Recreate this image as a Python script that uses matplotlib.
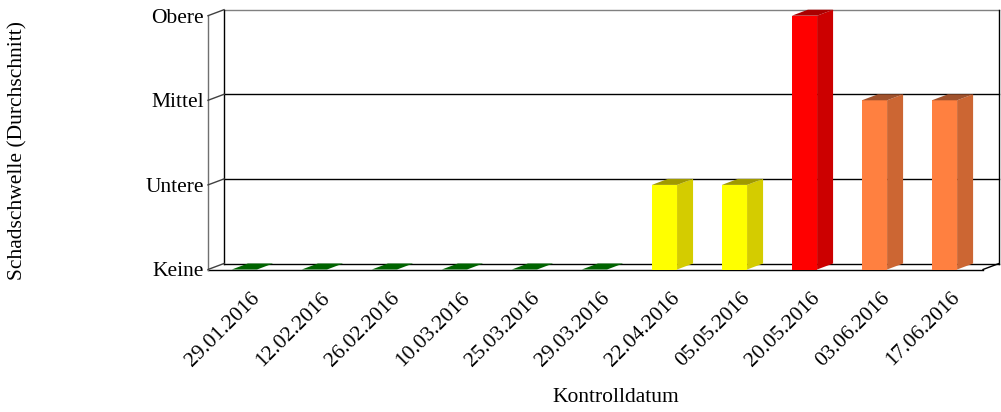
import matplotlib.pyplot as plt
from matplotlib.patches import Polygon
from matplotlib.transforms import offset_copy

plt.rcParams['font.family'] = ['Liberation Serif', 'DejaVu Serif']

# Daten
daten = ['29.01.2016', '12.02.2016', '26.02.2016', '10.03.2016', '25.03.2016',
         '29.03.2016', '22.04.2016', '05.05.2016', '20.05.2016', '03.06.2016',
         '17.06.2016']
werte = [0, 0, 0, 0, 0, 0, 1, 1, 3, 2, 2]
stufen = ['Keine', 'Untere', 'Mittel', 'Obere']

# Farben je Stufe: vorne, seite, oben
farben = {
    0: ('#006400', '#004b00', '#006400'),
    1: ('#ffff00', '#d4cc00', '#a09a00'),
    2: ('#ff8040', '#cc6633', '#a0522d'),
    3: ('#ff0000', '#cc0000', '#aa0000'),
}

W, H = 1001, 412
fs = 15.5
fig = plt.figure(figsize=(W / 100, H / 100), dpi=100)

# Vorderebene in Pixeln
px0, px1 = 208, 983
py0, py1 = 269.5, 15.7
ax = fig.add_axes([px0 / W, 1 - py0 / H, (px1 - px0) / W, (py0 - py1) / H])
xmin, xmax = -0.52, 10.55
ax.set_xlim(xmin, xmax)
ax.set_ylim(0, 3)
for s in ax.spines.values():
    s.set_visible(False)

# 3D-Tiefe (16 px nach rechts, 6 px nach oben) in Dateneinheiten
dx = 16 / (px1 - px0) * (xmax - xmin)
dy = 6 / (py0 - py1) * 3

kw = dict(clip_on=False, lw=1)
# Rückwand
ax.plot([xmin + dx, xmax + dx], [3 + dy, 3 + dy], color='#808080', zorder=1, **kw)
ax.plot([xmax + dx, xmax + dx], [dy, 3 + dy], color='black', zorder=1, **kw)
ax.plot([xmin + dx, xmin + dx], [dy, 3 + dy], color='black', zorder=1, **kw)
for k in [1, 2]:
    ax.plot([xmin + dx, xmax + dx], [k + dy, k + dy], color='black', zorder=1, **kw)
# Boden
ax.plot([xmin + dx, xmax + dx], [dy, dy], color='black', zorder=1, **kw)
ax.plot([xmin, xmax], [0, 0], color='black', zorder=2, **kw)
ax.plot([xmax, xmax + dx], [0, dy], color='black', zorder=2, **kw)
# linke Wand
ax.plot([xmin, xmin], [0, 3], color='#707070', zorder=2, **kw)
for k in range(4):
    ax.plot([xmin, xmin + dx], [k, k + dy], color='#404040', zorder=2, **kw)

# Balken
h = 0.18
for i, v in enumerate(werte):
    vorne, seite, oben = farben[v]
    if v > 0:
        ax.bar(i, v, width=2 * h, color=vorne, zorder=4, clip_on=False)
        ax.add_patch(Polygon([(i + h, 0), (i + h + dx, dy), (i + h + dx, v + dy), (i + h, v)],
                             closed=True, facecolor=seite, edgecolor='none', zorder=4, clip_on=False))
    ax.add_patch(Polygon([(i - h, v), (i - h + dx, v + dy), (i + h + dx, v + dy), (i + h, v)],
                         closed=True, facecolor=oben, edgecolor='none', zorder=4, clip_on=False))

# Achsenbeschriftung
ax.set_yticks(range(4), stufen, fontsize=fs)
ax.tick_params(axis='y', length=0, pad=3)
ax.set_xticks([])
trans = offset_copy(ax.get_xaxis_transform(), fig=fig, x=6, y=-19, units='dots')
for i, d in enumerate(daten):
    ax.text(i, 0, d, transform=trans, rotation=45, rotation_mode='anchor',
            ha='right', va='top', fontsize=fs)

fig.text(17.5 / W, 1 - 151 / H, 'Schadschwelle (Durchschnitt)', rotation=90,
         ha='center', va='center', fontsize=fs)
fig.text(616 / W, 1 - 398 / H, 'Kontrolldatum', ha='center', va='center', fontsize=fs)

fig.savefig('out.png', dpi=100)
